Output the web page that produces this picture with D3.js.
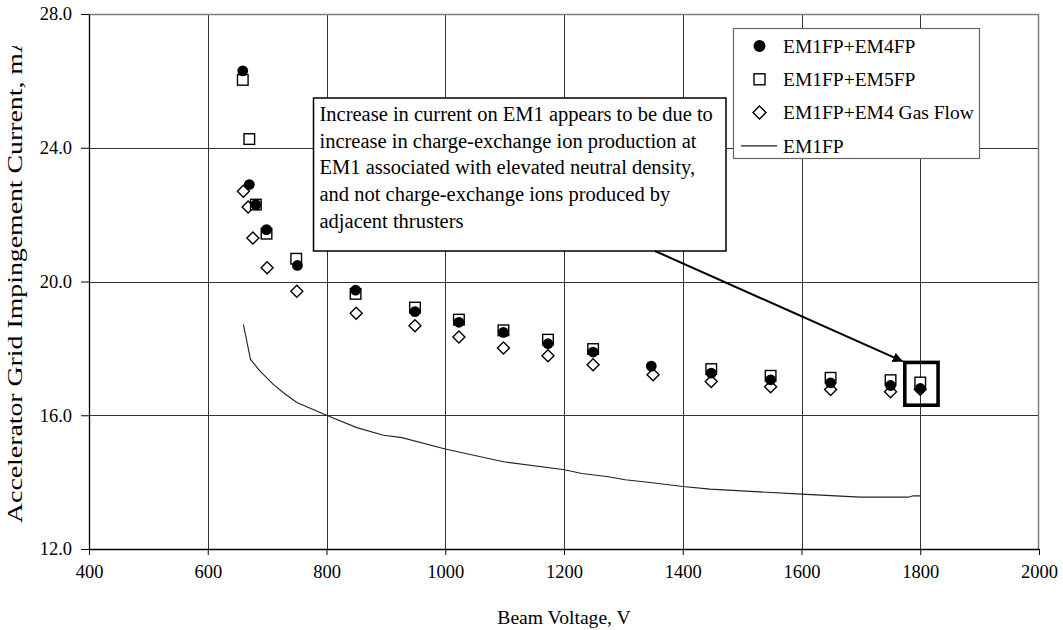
<!DOCTYPE html>
<html>
<head>
<meta charset="utf-8">
<script src="https://cdn.jsdelivr.net/npm/d3@7"></script>
<style>
  html, body { margin: 0; padding: 0; background: #fff; }
  svg { display: block; font-family: "Liberation Serif", "Times New Roman", serif; }
</style>
</head>
<body>
<svg id="chart" width="1063" height="630"></svg>
<script>
// Beam voltage (V) and accelerator grid impingement current (mA) per operating condition
const em4fpVoltage = [659, 670, 681, 699, 751, 849, 949, 1023, 1098, 1173, 1249, 1347, 1448, 1548, 1649, 1750, 1800];
const em4fpCurrent = [26.30, 22.90, 22.30, 21.55, 20.48, 19.74, 19.10, 18.78, 18.48, 18.14, 17.89, 17.47, 17.26, 17.06, 16.97, 16.89, 16.80];

const em5fpVoltage = [659, 670, 681, 699, 749, 849, 949, 1023, 1098, 1173, 1249, 1448, 1548, 1649, 1750, 1800];
const em5fpCurrent = [26.03, 24.26, 22.30, 21.43, 20.68, 19.63, 19.22, 18.86, 18.54, 18.26, 17.98, 17.38, 17.18, 17.12, 17.05, 16.98];

const gasFlowVoltage = [660, 668, 676, 700, 750, 850, 949, 1023, 1098, 1173, 1249, 1350, 1448, 1548, 1649, 1750, 1800];
const gasFlowCurrent = [22.70, 22.23, 21.30, 20.41, 19.71, 19.05, 18.68, 18.34, 18.01, 17.78, 17.51, 17.21, 17.01, 16.85, 16.77, 16.70, 16.78];

const em1fpVoltage = [660, 672, 688, 710, 727, 750, 800, 851, 896, 927, 1000, 1098, 1201, 1230, 1272, 1303, 1345, 1400, 1446, 1600, 1699, 1780, 1788, 1800];
const em1fpCurrent = [18.72, 17.67, 17.32, 16.93, 16.68, 16.38, 16.00, 15.63, 15.40, 15.33, 14.99, 14.61, 14.37, 14.26, 14.17, 14.07, 13.99, 13.87, 13.79, 13.64, 13.55, 13.55, 13.59, 13.59];

const xTicks = [400, 600, 800, 1000, 1200, 1400, 1600, 1800, 2000];
const yTicks = [12, 16, 20, 24, 28];

const seriesNames = ["EM1FP+EM4FP", "EM1FP+EM5FP", "EM1FP+EM4 Gas Flow", "EM1FP"];

// Highlighted operating point (voltage span, current span)
const highlightVoltage = [1774, 1830];
const highlightCurrent = [16.30, 17.58];

const noteLines = [
  "Increase in current on EM1 appears to be due to",
  "increase in charge-exchange ion production at",
  "EM1 associated with elevated neutral density,",
  "and not charge-exchange ions produced by",
  "adjacent thrusters"
];

const svg = d3.select("#chart");
const plot = { left: 89, right: 1039, top: 14, bottom: 549 };

const x = d3.scaleLinear().domain([400, 2000]).range([plot.left, plot.right]);
const y = d3.scaleLinear().domain([12, 28]).range([plot.bottom, plot.top]);

// Grid lines
const grid = svg.append("g");
grid.selectAll("line.v").data(xTicks.slice(1, -1)).join("line")
  .attr("x1", d => Math.round(x(d)) + 0.5).attr("x2", d => Math.round(x(d)) + 0.5)
  .attr("y1", plot.top).attr("y2", plot.bottom)
  .attr("stroke", "#333").attr("stroke-width", 1);
grid.selectAll("line.h").data(yTicks.slice(1, -1)).join("line")
  .attr("x1", plot.left).attr("x2", plot.right)
  .attr("y1", d => Math.round(y(d)) + 0.5).attr("y2", d => Math.round(y(d)) + 0.5)
  .attr("stroke", "#333").attr("stroke-width", 1);

// Plot frame (top and right)
svg.append("path")
  .attr("d", `M${plot.left},${plot.top + 0.5} H${plot.right - 0.5} V${plot.bottom}`)
  .attr("fill", "none").attr("stroke", "#7f7f7f").attr("stroke-width", 1.5);

// Axes
const xAxis = d3.axisBottom(x).tickValues(xTicks).tickFormat(d3.format("d"))
  .tickSizeInner(6).tickSizeOuter(0).tickPadding(10);
const yAxis = d3.axisLeft(y).tickValues(yTicks).tickFormat(d3.format(".1f"))
  .tickSizeInner(8).tickSizeOuter(0).tickPadding(9);

const gx = svg.append("g").attr("transform", `translate(0,${plot.bottom})`).call(xAxis);
const gy = svg.append("g").attr("transform", `translate(${plot.left},0)`).call(yAxis);
[gx, gy].forEach(g => {
  g.select(".domain").attr("stroke", "#000").attr("stroke-width", 1.3);
  g.selectAll(".tick line").attr("stroke", "#000");
  g.selectAll(".tick text").attr("fill", "#000")
    .style("font-family", "'Liberation Serif', serif").style("font-size", "18.5px");
});

// Axis titles
svg.append("text")
  .attr("x", (plot.left + plot.right) / 2).attr("y", 624)
  .attr("text-anchor", "middle").attr("font-size", 19.6).attr("fill", "#000")
  .text("Beam Voltage, V");

svg.append("clipPath").attr("id", "ytitle-clip")
  .append("rect").attr("x", 0).attr("y", 46).attr("width", 60).attr("height", 584);
svg.append("g").attr("clip-path", "url(#ytitle-clip)")
  .append("text")
  .attr("transform", "translate(22,278) rotate(-90)")
  .attr("text-anchor", "middle").attr("font-size", 20).attr("fill", "#000")
  .attr("textLength", 490).attr("lengthAdjust", "spacingAndGlyphs")
  .text("Accelerator Grid Impingement Current, mA");

// EM1FP line
const line = d3.line().x(d => x(d[0])).y(d => y(d[1]));
svg.append("path")
  .datum(d3.zip(em1fpVoltage, em1fpCurrent))
  .attr("d", line).attr("fill", "none").attr("stroke", "#222").attr("stroke-width", 1.1);

// Marker shapes
const diamondPath = s => `M0,${-s} L${s},0 L0,${s} L${-s},0 Z`;

svg.append("g").selectAll("path")
  .data(d3.zip(gasFlowVoltage, gasFlowCurrent)).join("path")
  .attr("transform", d => `translate(${x(d[0])},${y(d[1])})`)
  .attr("d", diamondPath(6))
  .attr("fill", "#fff").attr("stroke", "#000").attr("stroke-width", 1.4);

svg.append("g").selectAll("rect")
  .data(d3.zip(em5fpVoltage, em5fpCurrent)).join("rect")
  .attr("x", d => x(d[0]) - 5.3).attr("y", d => y(d[1]) - 5.3)
  .attr("width", 10.6).attr("height", 10.6)
  .attr("fill", "#fff").attr("stroke", "#000").attr("stroke-width", 1.4);

svg.append("g").selectAll("circle")
  .data(d3.zip(em4fpVoltage, em4fpCurrent)).join("circle")
  .attr("cx", d => x(d[0])).attr("cy", d => y(d[1])).attr("r", 5.4)
  .attr("fill", "#000");

// Highlight frame around the 1800 V point
svg.append("rect")
  .attr("x", x(highlightVoltage[0])).attr("y", y(highlightCurrent[1]))
  .attr("width", x(highlightVoltage[1]) - x(highlightVoltage[0]))
  .attr("height", y(highlightCurrent[0]) - y(highlightCurrent[1]))
  .attr("fill", "none").attr("stroke", "#000").attr("stroke-width", 3.6);

// Annotation box
const note = { left: 313.5, top: 98, right: 726, bottom: 251 };
svg.append("rect")
  .attr("x", note.left).attr("y", note.top)
  .attr("width", note.right - note.left).attr("height", note.bottom - note.top)
  .attr("fill", "#fff").attr("stroke", "#000").attr("stroke-width", 1.5);
svg.append("g").selectAll("text").data(noteLines).join("text")
  .attr("x", note.left + 6).attr("y", (d, i) => note.top + 23 + i * 26.7)
  .attr("font-size", 20.5).attr("fill", "#000")
  .text(d => d);

// Arrow from the note to the highlighted point
svg.append("defs").append("marker")
  .attr("id", "arrowhead").attr("viewBox", "0 0 10 10")
  .attr("refX", 10).attr("refY", 5)
  .attr("markerWidth", 5).attr("markerHeight", 5)
  .attr("markerUnits", "strokeWidth").attr("orient", "auto")
  .append("path").attr("d", "M0,0 L10,5 L0,10 Z").attr("fill", "#000");
svg.append("line")
  .attr("x1", 655).attr("y1", note.bottom)
  .attr("x2", x(highlightVoltage[0]) - 2).attr("y2", y(highlightCurrent[1]) - 1)
  .attr("stroke", "#000").attr("stroke-width", 2)
  .attr("marker-end", "url(#arrowhead)");

// Legend
const legend = { left: 733, top: 28, right: 979, bottom: 158 };
svg.append("rect")
  .attr("x", legend.left + 0.5).attr("y", legend.top + 0.5)
  .attr("width", legend.right - legend.left).attr("height", legend.bottom - legend.top)
  .attr("fill", "#fff").attr("stroke", "#666").attr("stroke-width", 1.2);
const rowY = i => legend.top + 18 + i * 33.3;
const lg = svg.append("g");
lg.append("circle").attr("cx", 759.5).attr("cy", rowY(0)).attr("r", 6).attr("fill", "#000");
lg.append("rect").attr("x", 759.5 - 5.5).attr("y", rowY(1) - 5.5).attr("width", 11).attr("height", 11)
  .attr("fill", "#fff").attr("stroke", "#000").attr("stroke-width", 1.4);
lg.append("path").attr("transform", `translate(759.5,${rowY(2)})`).attr("d", diamondPath(6.5))
  .attr("fill", "#fff").attr("stroke", "#000").attr("stroke-width", 1.4);
lg.append("line").attr("x1", 741).attr("x2", 777).attr("y1", rowY(3)).attr("y2", rowY(3))
  .attr("stroke", "#222").attr("stroke-width", 1.1);
lg.selectAll("text").data(seriesNames).join("text")
  .attr("x", 783).attr("y", (d, i) => rowY(i) + 6.8)
  .attr("font-size", 19.5).attr("fill", "#000")
  .text(d => d);
</script>
</body>
</html>
